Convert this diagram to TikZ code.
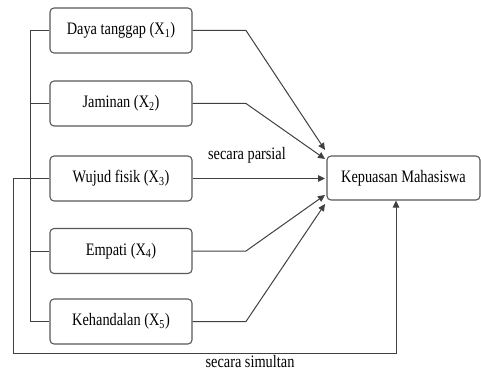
\documentclass[tikz,border=0pt]{standalone}
\usepackage{fontspec}
\setmainfont[FakeStretch=0.82]{Liberation Serif}
\usetikzlibrary{arrows.meta}
\begin{document}
\begin{tikzpicture}[x=1pt,y=1pt,
  box/.style={draw=black!65,line width=1.1pt,rounded corners=4pt,minimum width=142pt,minimum height=45pt,inner sep=0pt,font=\fontsize{17.5}{20}\selectfont,fill=white},
  lbl/.style={font=\fontsize{17.5}{20}\selectfont,inner sep=0pt},
  conn/.style={draw=black!75,line width=1pt},
  arr/.style={conn,-{Triangle[length=7pt,width=6.5pt]}}]
\useasboundingbox (0,0) rectangle (481,-371);
\node[box] (b1) at (121,-30.5) {Daya tanggap (X\textsubscript{1})};
\node[box] (b2) at (121,-103.5) {Jaminan (X\textsubscript{2})};
\node[box] (b3) at (121,-178.5) {Wujud fisik (X\textsubscript{3})};
\node[box] (b4) at (121,-251) {Empati (X\textsubscript{4})};
\node[box] (b5) at (121,-321.5) {Kehandalan (X\textsubscript{5})};
\node[box,minimum width=153pt,minimum height=44pt] (k) at (403.5,-178) {Kepuasan Mahasiswa};
\node[lbl] (lp) at (247,-155) {secara parsial};
\node[lbl] (ls) at (250,-362) {secara simultan};
% bus on the left
\coordinate (bus) at (30,0);
\coordinate (bx) at (246,0);
\coordinate (ol) at (13,-353);
\coordinate (or) at (396,-353);
\coordinate (t1) at (325,-150);
\coordinate (t2) at (325,-159);
\coordinate (t3) at (325,-178.5);
\coordinate (t4) at (325,-195);
\coordinate (t5) at (325,-204);
\draw[conn] (b1.west) -- (b1.west -| bus) -- (b5.west -| bus) -- (b5.west);
\draw[conn] (b2.west) -- (b2.west -| bus);
\draw[conn] (b4.west) -- (b4.west -| bus);
\draw[arr] (b3.west) -- (b3.west -| ol) -- (ol) -- (or) -- (or |- k.south);
% partial arrows
\draw[arr] (b1.east) -- (b1.east -| bx) -- (t1);
\draw[arr] (b2.east) -- (b2.east -| bx) -- (t2);
\draw[arr] (b3.east) -- (t3);
\draw[arr] (b4.east) -- (b4.east -| bx) -- (t4);
\draw[arr] (b5.east) -- (b5.east -| bx) -- (t5);
\end{tikzpicture}
\end{document}
